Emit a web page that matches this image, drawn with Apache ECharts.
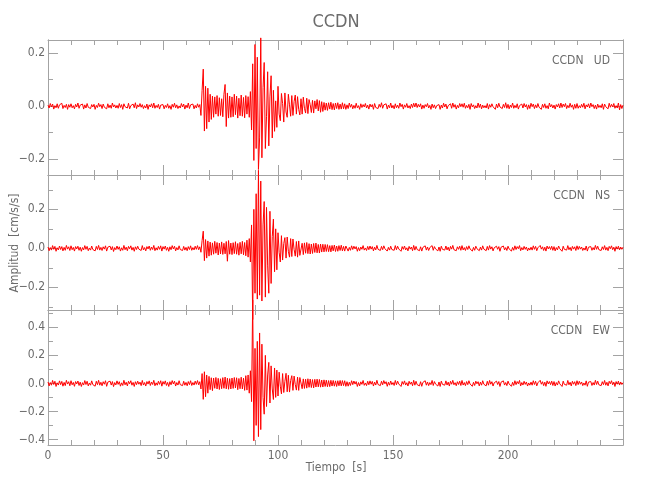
<!DOCTYPE html>
<html>
<head>
<meta charset="utf-8">
<script src="https://cdn.jsdelivr.net/npm/echarts@6/dist/echarts.min.js"></script>
<style>
  html, body { margin: 0; padding: 0; background: #fff; }
  #chart { width: 650px; height: 500px; }
</style>
</head>
<body>
<div id="chart"></div>
<script>
// sampling interval of the traces [s]
var DT = 0.5;
// trace values are stored in units of 0.001 cm/s/s
var UNIT = 0.001;

// CCDN UD
var ud = [
  4,-7,10,-3,8,-11,2,-6,9,-8,5,-2,11,-9,3,-5,7,-12,6,-4,
  9,-6,2,-10,7,-3,12,-8,4,-1,8,-11,5,-7,10,-4,1,-9,6,-3,
  7,-12,3,-5,11,-2,6,-9,8,-4,2,-10,9,-6,4,-8,12,-3,5,-7,
  3,-8,10,-5,6,-12,9,-2,4,-7,11,-10,2,-4,8,-6,13,-9,5,-3,
  10,-4,6,-9,2,-7,8,-12,5,-3,9,-6,12,-8,3,-5,7,-11,4,-2,
  6,-10,3,-5,9,-8,2,-12,7,-4,11,-6,5,-9,1,-7,10,-3,8,-11,
  4,-6,12,-9,5,-2,8,-10,3,-7,9,-4,6,-35,60,140,-94,75,-85,68,
  -60,45,-50,38,-42,35,-30,40,-38,32,-35,28,-40,45,82,-77,50,-45,38,-42,
  35,-40,45,-32,38,-45,30,-36,42,-38,33,-44,40,-30,36,-42,55,-90,160,-205,
  233,-160,185,-239,-120,258,-195,70,165,-160,-40,130,-150,35,115,-120,60,-95,20,-80,
  75,-30,-55,48,10,-60,50,-22,-42,45,5,-38,40,-35,18,42,-30,36,-12,-33,
  28,-30,34,-8,-26,30,-28,25,6,-24,22,-26,20,-10,25,-18,21,-23,17,-20,
  14,-15,12,-16,13,-11,15,-13,10,-14,12,-9,13,-12,8,-11,13,-10,9,-12,
  5,-9,12,-4,7,-10,3,-8,11,-6,2,-12,9,-5,6,-3,10,-7,4,-11,
  8,-3,6,-12,10,-5,2,-9,7,-4,13,-8,5,-2,9,-11,4,-6,12,-7,
  3,-10,9,-6,4,-8,12,-2,7,-11,5,-4,10,-7,2,-9,8,-5,11,-3,
  12,-5,7,-3,9,-11,4,-8,6,-2,10,-7,3,-12,8,-6,5,-9,2,-4,
  6,-12,4,-7,11,-3,8,-10,2,-5,9,-8,12,-4,6,-11,3,-6,10,-2,
  9,-4,11,-8,3,-6,7,-12,10,-3,5,-9,2,-7,12,-5,8,-10,4,-6,
  2,-7,10,-11,6,-4,9,-2,5,-12,8,-6,11,-3,4,-9,7,-5,13,-8,
  7,-10,4,-5,12,-8,3,-6,9,-11,2,-4,8,-7,10,-3,6,-12,5,-9,
  11,-2,8,-9,5,-6,10,-4,3,-12,7,-5,9,-8,2,-10,12,-3,6,-7,
  4,-11,6,-3,9,-7,12,-5,8,-2,10,-9,3,-6,11,-4,5,-12,7,-8,
  10,-8,2,-6,7,-4,11,-10,5,-3,9,-7,12,-2,6,-9,4,-11,8,-5,
  3,-6,9,-12,8,-2,5,-10,11,-4,7,-3,10,-8,2,-7,12,-14,6,-9,
  4
];

// CCDN NS
var ns = [
  7,-12,4,-9,14,-5,10,-15,3,-8,12,-6,9,-13,5,-10,15,-4,8,-11,
  13,-7,5,-14,9,-3,11,-10,6,-15,4,-8,14,-5,10,-12,2,-9,12,-6,
  3,-13,10,-6,15,-9,5,-11,8,-4,13,-14,6,-3,11,-8,9,-16,4,-7,
  12,-5,8,-14,3,-10,15,-7,6,-12,10,-2,13,-9,5,-15,8,-6,11,-4,
  6,-11,14,-8,4,-13,9,-3,12,-10,7,-6,15,-12,3,-9,10,-5,13,-14,
  9,-4,12,-10,5,-15,8,-7,14,-3,11,-13,4,-8,13,-6,2,-11,10,-9,
  5,-12,9,-6,13,-10,4,-8,11,-5,14,-7,8,-20,40,88,-63,45,-50,38,
  -40,32,-35,28,-30,36,-25,30,-34,27,-29,33,-31,26,-28,35,-66,40,-30,27,
  -32,29,-27,34,-30,25,-35,31,-28,36,-33,30,-38,42,-45,50,-70,120,-365,200,
  -230,280,-260,400,-240,345,-270,120,240,-250,210,-90,-230,190,-180,60,150,-120,100,-110,
  80,-20,-70,65,-60,25,55,-50,58,-15,-45,50,-42,48,-5,-40,35,-45,38,-36,
  -30,26,-32,28,-25,30,-27,24,-29,22,-26,25,-21,27,-23,20,-24,22,-19,21,
  -18,20,-16,19,-17,14,-18,15,-13,17,-16,12,-15,14,-11,16,-13,10,-14,12,
  8,-14,5,-10,13,-6,11,-3,9,-15,4,-12,7,-5,14,-9,2,-11,10,-7,
  12,-4,9,-13,6,-8,15,-5,3,-11,10,-7,13,-2,8,-14,5,-9,11,-6,
  4,-10,14,-7,11,-3,6,-15,9,-5,12,-8,3,-13,10,-4,7,-12,15,-9,
  10,-6,3,-12,8,-14,5,-2,13,-9,7,-11,4,-6,14,-10,9,-3,6,-13,
  7,-15,11,-5,2,-9,12,-8,6,-13,10,-4,15,-7,3,-12,8,-5,11,-10,
  14,-8,4,-11,9,-6,13,-3,7,-14,5,-10,11,-2,8,-12,6,-9,13,-4,
  5,-12,10,-9,14,-4,8,-13,3,-7,11,-5,9,-15,6,-3,12,-8,4,-11,
  11,-3,7,-14,5,-10,13,-6,9,-2,14,-12,4,-8,10,-5,7,-13,2,-9,
  6,-9,13,-5,10,-12,3,-7,15,-4,8,-11,6,-14,12,-3,9,-6,11,-10,
  9,-13,4,-8,12,-2,7,-15,11,-5,3,-9,14,-7,5,-12,10,-4,8,-11,
  13,-6,10,-4,7,-11,2,-9,12,-14,6,-3,9,-10,4,-8,15,-5,11,-7,
  3,-11,8,-6,14,-9,5,-12,10,-2,13,-7,6,-15,9,-4,11,-8,7,-5,
  6
];

// CCDN EW
var ew = [
  10,-18,6,-13,21,-8,15,-22,4,-12,18,-9,14,-20,7,-16,22,-5,12,-17,
  19,-10,7,-21,13,-4,17,-15,9,-22,5,-12,20,-8,15,-18,3,-13,18,-9,
  5,-20,15,-9,22,-13,8,-17,12,-6,19,-21,9,-4,16,-12,13,-23,6,-11,
  18,-7,12,-20,4,-15,22,-10,8,-18,15,-3,19,-13,7,-22,12,-9,16,-6,
  9,-16,21,-12,6,-19,13,-5,18,-15,10,-8,22,-17,4,-13,15,-7,19,-20,
  13,-6,18,-15,7,-22,12,-10,20,-4,16,-19,6,-12,19,-9,3,-16,15,-13,
  7,-17,13,-9,19,-15,6,-12,16,-7,20,-10,12,-40,70,-114,83,-95,60,-70,
  50,-45,40,-52,38,-35,42,-40,36,-44,33,-38,41,-35,45,-39,37,-42,34,-40,
  38,-36,42,-33,40,-45,35,-38,44,-40,37,-50,55,-48,60,-70,90,-130,595,-410,
  250,-300,300,-380,360,-330,280,-100,-220,200,-165,60,150,-140,125,-40,-115,110,-100,95,
  -90,80,-20,-75,70,-65,15,72,-60,58,-62,20,55,-50,52,-8,-48,45,-50,42,
  35,-38,32,-36,30,-34,33,-28,31,-30,27,-32,29,-26,30,-25,28,-27,24,-26,
  25,-22,23,-24,20,-23,22,-19,21,-20,18,-22,19,-17,21,-18,20,-16,19,-21,
  12,-20,8,-15,19,-9,17,-5,13,-22,6,-18,11,-7,21,-14,3,-16,15,-10,
  18,-6,14,-19,9,-12,22,-8,5,-16,15,-10,20,-3,12,-21,8,-13,17,-9,
  6,-15,21,-10,16,-4,9,-22,13,-7,18,-12,5,-19,15,-6,10,-17,22,-13,
  15,-9,4,-18,12,-21,7,-3,19,-13,10,-16,6,-9,21,-15,13,-5,9,-19,
  10,-22,16,-7,3,-13,18,-12,9,-19,15,-6,22,-10,5,-17,12,-8,16,-15,
  21,-12,6,-16,13,-9,19,-4,10,-21,8,-15,16,-3,12,-18,9,-13,19,-6,
  7,-18,15,-13,21,-6,12,-19,4,-10,16,-8,13,-22,9,-5,18,-12,6,-16,
  16,-4,10,-21,8,-15,19,-9,13,-3,21,-18,6,-12,15,-7,10,-19,3,-13,
  9,-13,19,-8,15,-18,4,-10,22,-6,12,-16,9,-21,18,-4,13,-9,16,-15,
  13,-19,6,-12,18,-3,10,-22,16,-7,4,-13,21,-10,8,-18,15,-6,12,-16,
  19,-9,15,-6,10,-16,3,-13,18,-21,9,-4,13,-15,6,-12,22,-8,16,-10,
  4,-16,12,-9,21,-13,8,-18,15,-3,19,-10,9,-22,13,-6,16,-12,10,-8,
  5
];

var components = ['UD', 'NS', 'EW'];
var traces = [ud, ns, ew];

// tick values of the amplitude axes (major labelled, minor unlabelled)
var udTicks = [-0.2, 0.0, 0.2];
var nsTicks = [-0.2, 0.0, 0.2];
var ewTicks = [-0.4, -0.2, 0.0, 0.2, 0.4];
var udMinor = [-0.2, -0.1, 0.0, 0.1, 0.2];
var nsMinor = [-0.3, -0.2, -0.1, 0.0, 0.1, 0.2, 0.3];
var ewMinor = [-0.4, -0.3, -0.2, -0.1, 0.0, 0.1, 0.2, 0.3, 0.4, 0.5];
var majorTicks = [udTicks, nsTicks, ewTicks];
var minorTicks = [udMinor, nsMinor, ewMinor];

// layout
var yRange = [[-0.26, 0.25], [-0.316, 0.376], [-0.44, 0.524]];
var panelTop = [40, 175, 310];
var panelH = 135;
var GRID_LEFT = 48, GRID_RIGHT = 27;
var AXIS_COLOR = '#a3a3a3';
var TEXT_COLOR = '#6b6b6b';
var FONT = "'DejaVu Sans Condensed', 'Liberation Sans Narrow', sans-serif";

var dom = document.getElementById('chart');
var myChart = echarts.init(dom, null, { renderer: 'canvas' });

function fmt(v) {
    if (Math.abs(v) < 1e-9) return '0.0';
    return (v < 0 ? '\u2212' : '') + Math.abs(v).toFixed(1);
}

var grid = [], xAxis = [], yAxis = [], series = [], graphic = [];

for (var g = 0; g < 3; g++) {
    grid.push({ left: GRID_LEFT, right: GRID_RIGHT, top: panelTop[g], height: panelH });

    // time axes, bottom and top of each panel
    ['bottom', 'top'].forEach(function (pos) {
        xAxis.push({
            gridIndex: g,
            type: 'value',
            position: pos,
            min: 0,
            max: 250,
            interval: 50,
            axisLine: { show: true, onZero: false, lineStyle: { color: AXIS_COLOR, width: 1 } },
            axisTick: { show: true, inside: true, length: 10, lineStyle: { color: AXIS_COLOR } },
            minorTick: { show: true, splitNumber: 5, length: 5, lineStyle: { color: AXIS_COLOR } },
            axisLabel: {
                show: g === 2 && pos === 'bottom',
                showMaxLabel: false,
                margin: 5,
                color: TEXT_COLOR,
                fontSize: 12,
                fontFamily: FONT
            },
            splitLine: { show: false },
            minorSplitLine: { show: false }
        });
    });

    // amplitude axes: left/right, major/minor ticks
    ['left', 'right'].forEach(function (pos) {
        [true, false].forEach(function (isMajor) {
            yAxis.push({
                gridIndex: g,
                type: 'value',
                position: pos,
                offset: 0,
                min: yRange[g][0],
                max: yRange[g][1],
                axisLine: { show: true, onZero: false, lineStyle: { color: AXIS_COLOR, width: 1 } },
                axisTick: {
                    show: true,
                    inside: true,
                    length: isMajor ? 10 : 5,
                    customValues: isMajor ? majorTicks[g] : minorTicks[g],
                    lineStyle: { color: AXIS_COLOR }
                },
                axisLabel: {
                    show: isMajor && pos === 'left',
                    customValues: majorTicks[g],
                    formatter: fmt,
                    margin: 3,
                    color: TEXT_COLOR,
                    fontSize: 12,
                    fontFamily: FONT
                },
                splitLine: { show: false }
            });
        });
    });

    series.push({
        name: components[g],
        type: 'line',
        xAxisIndex: g * 2,
        yAxisIndex: g * 4,
        data: traces[g].map(function (v, i) { return [i * DT, v * UNIT]; }),
        showSymbol: false,
        symbol: 'none',
        sampling: false,
        clip: false,
        silent: true,
        lineStyle: { color: '#ff0000', width: 1 },
        z: 1
    });

    // station / component label
    graphic.push({
        type: 'text',
        right: 40,
        top: panelTop[g] + 15,
        style: {
            text: 'CCDN   ' + components[g],
            fill: TEXT_COLOR,
            font: '12px ' + FONT
        }
    });
}

// title and axis names
graphic.push({
    type: 'text',
    x: 336, y: 22,
    style: { text: 'CCDN', fill: TEXT_COLOR, font: '18px ' + FONT, textAlign: 'center', textVerticalAlign: 'middle' }
});
graphic.push({
    type: 'text',
    x: 15, y: 243,
    rotation: Math.PI / 2,
    style: { text: 'Amplitud  [cm/s/s]', fill: TEXT_COLOR, font: '12px ' + FONT, textAlign: 'center', textVerticalAlign: 'middle' }
});
graphic.push({
    type: 'text',
    x: 336, y: 468,
    style: { text: 'Tiempo  [s]', fill: TEXT_COLOR, font: '12px ' + FONT, textAlign: 'center', textVerticalAlign: 'middle' }
});

var option = {
    animation: false,
    backgroundColor: '#ffffff',
    grid: grid,
    xAxis: xAxis,
    yAxis: yAxis,
    series: series,
    graphic: graphic
};

if (option && typeof option === 'object') {
    myChart.setOption(option, true);
    window.onresize = function () {
        myChart.resize();
    };
}
</script>
</body>
</html>
